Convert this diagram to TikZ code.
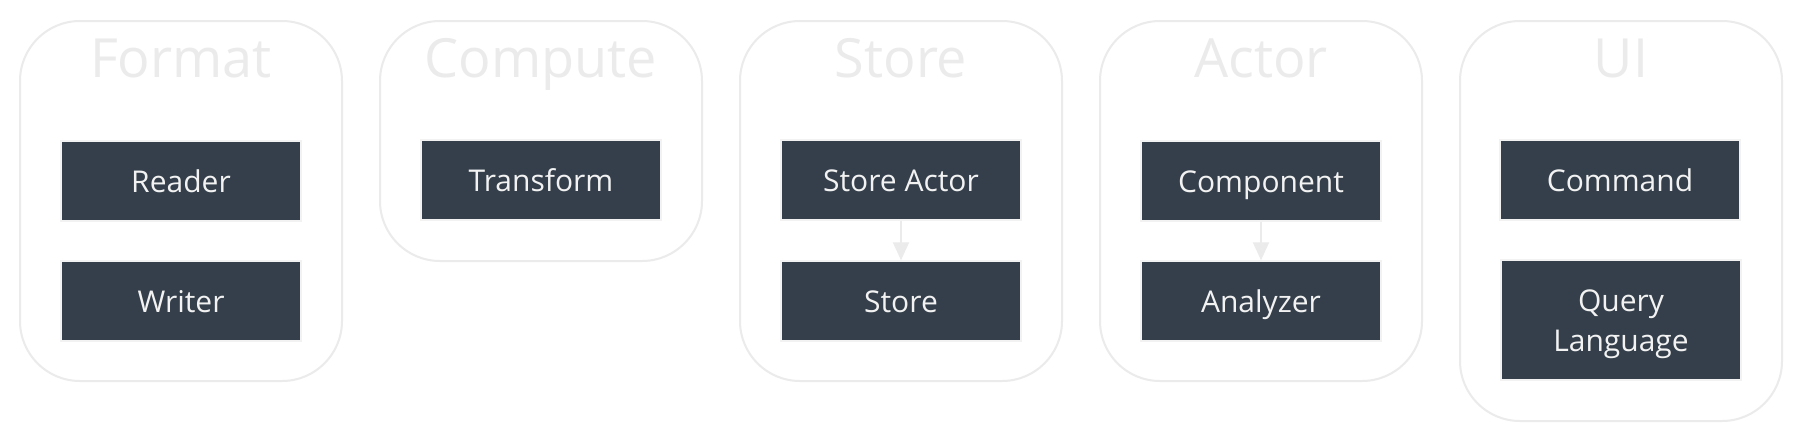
\documentclass[tikz,border=0pt]{standalone}
\usepackage{fontspec}
\setmainfont{Open Sans}
\usepackage{tikz}
\usetikzlibrary{arrows.meta, positioning}
\usepackage{xcolor}
\definecolor{slate}{HTML}{343F4B}
\definecolor{frame}{HTML}{EBEBEB}
\definecolor{label}{HTML}{F2F2F2}

\begin{document}
\begin{tikzpicture}[x=1pt, y=-1pt, >={Triangle[length=18pt, width=16pt]},
    group/.style={draw=frame, line width=2pt, rounded corners=60pt, minimum width=322pt, anchor=north},
    title/.style={text=frame, anchor=base, font=\fontsize{54}{60}\selectfont},
    part/.style={fill=slate, draw=label, line width=1.5pt, text=label, minimum width=240pt, minimum height=80pt,
      text height=22pt, text depth=0pt, font=\fontsize{30}{40}\selectfont, align=center},
    link/.style={->, draw=frame, fill=frame, line width=2pt}]
      \useasboundingbox[fill=white] (0, 0) rectangle (1802, 440);

      \node[group, minimum height=360pt] (format) at (181, 20) {};
      \node[group, minimum height=240pt] (compute) at (541, 20) {};
      \node[group, minimum height=360pt] (storeg) at (901, 20) {};
      \node[group, minimum height=360pt] (actorg) at (1261, 20) {};
      \node[group, minimum height=400pt] (ui) at (1621, 20) {};

      \node[title] (formatT) at (181, 77) {Format};
      \node[title] (computeT) at (541, 77) {Compute};
      \node[title] (storeT) at (901, 77) {Store};
      \node[title] (actorT) at (1261, 77) {Actor};
      \node[title] (uiT) at (1621, 77) {UI};

      \node[part] (reader) at (181, 181) {Reader};
      \node[part] (writer) at (181, 301) {Writer};
      \node[part] (transform) at (541, 180) {Transform};
      \node[part] (sactor) at (901, 180) {Store Actor};
      \node[part] (store) at (901, 301) {Store};
      \node[part] (component) at (1261, 181) {Component};
      \node[part] (analyzer) at (1261, 301) {Analyzer};
      \node[part] (command) at (1620, 180) {Command};
      \node[part, minimum height=120pt, text height=62pt] (query) at (1621, 320) {Query\\Language};

      \draw[link] (sactor) -- (store);
      \draw[link] (component) -- (analyzer);

    \end{tikzpicture}
\end{document}
